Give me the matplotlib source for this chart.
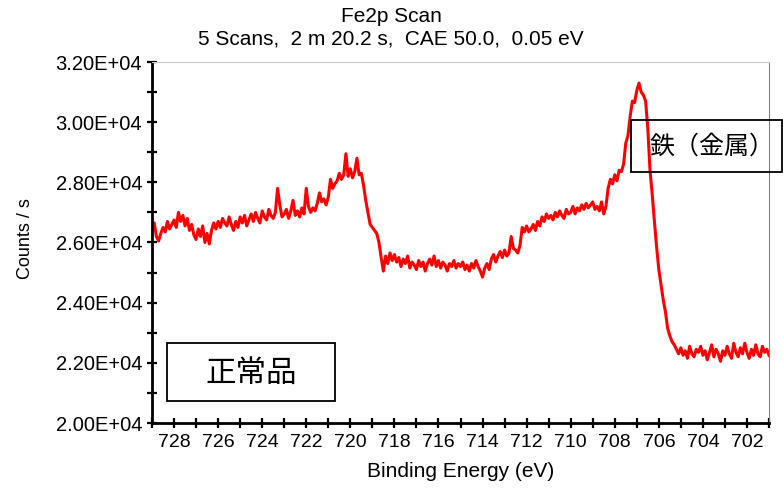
import matplotlib.pyplot as plt
from matplotlib.patches import Rectangle
from matplotlib.ticker import MultipleLocator, FuncFormatter
import numpy as np

plt.rcParams['font.family'] = ['Liberation Sans', 'Noto Sans CJK JP', 'DejaVu Sans']

# Fe2p scan, counts every 0.1 eV (729.0 -> 701.0)
counts = [
    26400, 26650, 26200, 26050, 26300, 26500, 26350, 26700, 26450, 26600,  # 729.0
    26750, 26500, 27000, 26700, 26900, 26550, 26800, 26400, 26600, 26250,  # 728.0
    26100, 26450, 26200, 26550, 26000, 26300, 25950, 26400, 26650, 26450,  # 727.0
    26700, 26500, 26800, 26650, 26550, 26850, 26600, 26400, 26700, 26500,  # 726.0
    26850, 26650, 26900, 26550, 26750, 26950, 26700, 27000, 26800, 26650,  # 725.0
    27050, 26850, 26750, 27100, 26900, 26800, 27000, 27800, 27250, 26850,  # 724.0
    26950, 27100, 26800, 27050, 27400, 26900, 27050, 26850, 27150, 26950,  # 723.0
    27800, 27200, 27000, 27150, 27050, 27300, 27650, 27350, 27450, 27250,  # 722.0
    27500, 28100, 27800, 27950, 28050, 28300, 28100, 28250, 28950, 28200,  # 721.0
    28450, 28150, 28350, 28800, 28250, 28300, 27900, 27400, 27000, 26600,  # 720.0
    26500, 26400, 26300, 26000, 25500, 25050, 25550, 25300, 25650, 25400,  # 719.0
    25600, 25350, 25500, 25200, 25450, 25300, 25550, 25150, 25350, 25250,  # 718.0
    25100, 25400, 25200, 25350, 25050, 25300, 25450, 25250, 25550, 25200,  # 717.0
    25400, 25150, 25350, 25250, 25050, 25300, 25200, 25400, 25150, 25300,  # 716.0
    25200, 25350, 25100, 25250, 25050, 25300, 25150, 25400, 25200, 25050,  # 715.0
    24850, 25150, 25300, 25100, 25450, 25600, 25350, 25550, 25700, 25500,  # 714.0
    25750, 25550, 25650, 26200, 25800, 25750, 25650, 25900, 26500, 26350,  # 713.0
    26550, 26350, 26450, 26600, 26400, 26700, 26550, 26850, 26700, 26950,  # 712.0
    26800, 26900, 26750, 27000, 26850, 27050, 26900, 26800, 27100, 26950,  # 711.0
    27000, 27200, 26950, 27150, 27050, 27250, 27100, 27300, 27150, 27250,  # 710.0
    27350, 27100, 27200, 27050, 27350, 26950, 27200, 27800, 28100, 27950,  # 709.0
    28250, 28050, 28400, 28350, 28600, 29300, 29550, 30200, 30700, 30650,  # 708.0
    31050, 31300, 31000, 30900, 30700, 29800, 28400, 27600, 26700, 25850,  # 707.0
    25100, 24600, 24100, 23700, 23150, 22900, 22700, 22600, 22450, 22300,  # 706.0
    22500, 22250, 22400, 22150, 22550, 22300, 22200, 22450, 22350, 22550,  # 705.0
    22250, 22400, 22100, 22350, 22600, 22200, 22450, 22300, 22050, 22400,  # 704.0
    22250, 22550, 22300, 22150, 22650, 22350, 22200, 22500, 22300, 22650,  # 703.0
    22350, 22150, 22450, 22250, 22600, 22300, 22200, 22550, 22350, 22450,  # 702.0
    22250,                                                                 # 701.0
]
be_start = 729.0
be_end = 701.0
energy = np.linspace(be_start, be_end, len(counts))

title1 = "Fe2p Scan"
title2 = "5 Scans,  2 m 20.2 s,  CAE 50.0,  0.05 eV"
xlab = "Binding Energy (eV)"
ylab = "Counts / s"
box1 = "正常品"
box2 = "鉄（金属）"

W, H = 783, 490
fig = plt.figure(figsize=(W/100, H/100), dpi=100)
ax = fig.add_axes([152/W, 1-423/H, (769-152)/W, (423-62)/H])

ax.plot(energy, counts, color='#ff0000', lw=2.2)

ax.set_xlim(be_start, be_end)
ax.set_ylim(20000, 32000)
ax.xaxis.set_major_locator(MultipleLocator(2))
ax.xaxis.set_minor_locator(MultipleLocator(1))
ax.yaxis.set_major_locator(MultipleLocator(2000))
ax.yaxis.set_minor_locator(MultipleLocator(1000))
ax.yaxis.set_major_formatter(FuncFormatter(lambda v, p: f"{v:.2E}"))
ax.xaxis.set_major_formatter(FuncFormatter(lambda v, p: f"{v:.0f}"))

for s in ['left', 'bottom']:
    ax.spines[s].set_linewidth(2.0)
    ax.spines[s].set_color('black')
ax.spines['right'].set_linewidth(0.8)
ax.spines['right'].set_color('#808080')
ax.spines['top'].set_linewidth(0.8)
ax.spines['top'].set_color('#c8c8c8')

ax.tick_params(which='both', direction='inout', length=7, width=1.6,
               top=False, right=False, color='black')
ax.tick_params(axis='y', which='major', labelsize=14.5, pad=3.5)
ax.tick_params(axis='x', which='major', labelsize=14, pad=4.5)

fig.text(391/W, 1-16/H, title1, ha='center', va='center', fontsize=15)
fig.text(391/W, 1-39/H, title2, ha='center', va='center', fontsize=15)
fig.text(461/W, 1-471/H, xlab, ha='center', va='center', fontsize=15)
fig.text(25/W, 1-239/H, ylab, ha='center', va='center', rotation=90, fontsize=13)

# annotation boxes
fig.patches.append(Rectangle((167/W, 1-401/H), (335-167)/W, (401-343)/H,
                             transform=fig.transFigure, fill=False,
                             edgecolor='black', lw=1.3))
fig.text(251/W, 1-373/H, box1, ha='center', va='center', fontsize=22,
         family=['Noto Sans CJK JP'])
fig.patches.append(Rectangle((631/W, 1-172/H), (782-631)/W, (172-120)/H,
                             transform=fig.transFigure, fill=False,
                             edgecolor='black', lw=1.3, zorder=5))
fig.text(650/W, 1-147/H, box2, ha='left', va='center', fontsize=18,
         family=['Noto Sans CJK JP'])

fig.savefig('out.png', dpi=100)
